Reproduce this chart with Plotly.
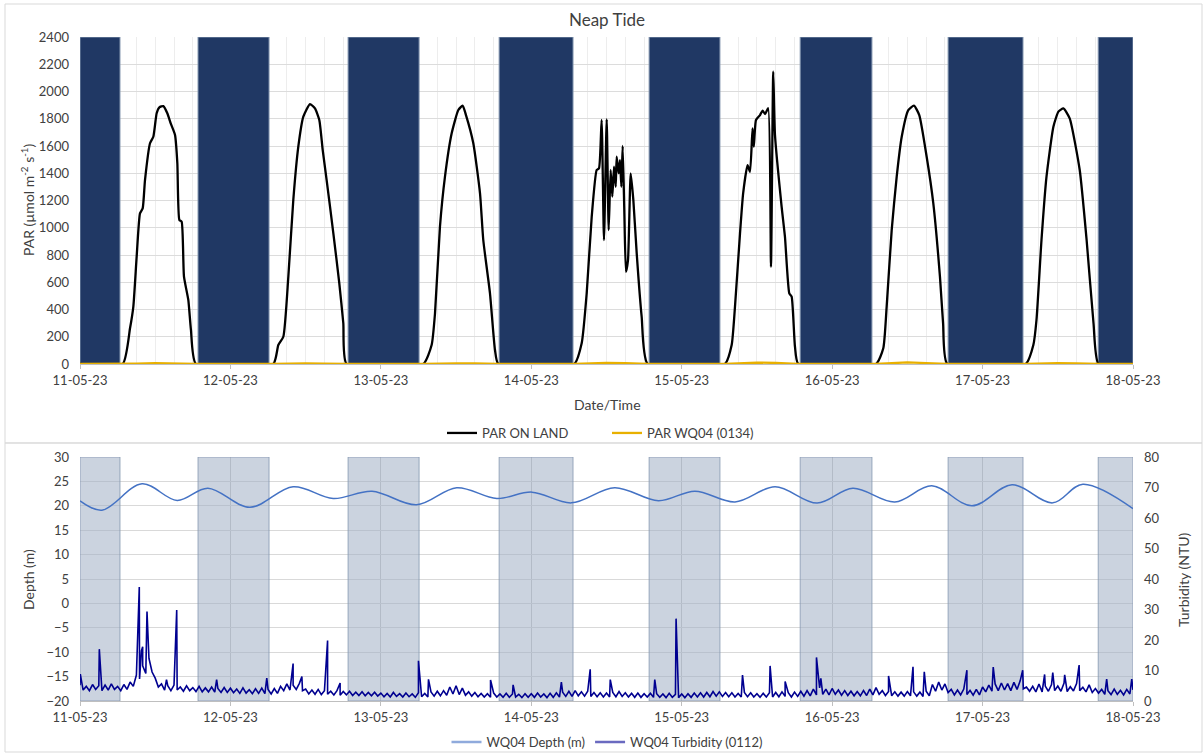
import plotly.graph_objects as go
import pandas as pd

# ---------------- DATA ----------------
start = pd.Timestamp("2023-05-11 00:00")
end = pd.Timestamp("2023-05-18 00:00")

# Night periods (hours since 11-05-23 00:00)
night_start_h = [0, 18.83, 42.77, 66.87, 90.8, 114.9, 138.5, 162.45]
night_end_h = [6.38, 30.16, 54.1, 78.66, 102.1, 126.35, 150.45, 168]

# PAR ON LAND (umol m-2 s-1)
par_land_h = [0, 6.81, 7.98, 8.51, 9.04, 9.57, 10.0, 10.37, 11.17, 11.7, 12.23, 12.66, 13.3, 13.93, 14.47, 15.16, 15.53, 15.85, 16.22, 16.59, 17.28, 17.7, 18.5,
              30.84, 31.64, 32.44, 33.24, 34.03, 34.83, 35.63, 36.69, 37.49, 38.18, 38.72, 39.35, 40.42, 41.37, 42.01, 42.54,
              54.77, 56.1, 56.64, 57.43, 58.23, 59.3, 60.36, 61.05, 61.58, 62.75, 63.82, 64.34, 65.41, 66.21, 66.74,
              78.86, 80.04, 80.84, 81.64, 82.43, 82.8, 83.22, 83.6, 84.03, 84.35, 84.66, 84.93, 85.2, 85.47, 85.62, 85.94, 86.15, 86.37, 86.58, 86.84, 87.1, 87.43, 87.86, 88.28, 88.82, 89.61, 90.57,
              102.9, 103.97, 104.5, 105.3, 105.8, 106.5, 106.9, 107.3, 107.5, 107.85, 108.5, 108.9, 109.3, 109.8, 110.24, 110.6, 110.88, 111.94, 112.47, 113.16, 113.54, 114.07, 114.6,
              127.0, 128.16, 128.7, 129.5, 130.3, 131.1, 132.15, 133.06, 133.9, 135.08, 136.14, 137.2, 137.7, 138.37,
              150.9, 152.1, 152.6, 153.4, 154.2, 155.3, 156.1, 156.9, 157.9, 159.5, 160.6, 161.7, 162.5, 168]
par_land = [0, 0, 262, 421, 788, 1106, 1142, 1350, 1620, 1668, 1840, 1884, 1893, 1840, 1766, 1681, 1473, 1057, 1044, 641, 470, 250, 0,
            0, 139, 200, 641, 1204, 1595, 1815, 1908, 1876, 1791, 1571, 1350, 959, 592, 299, 0,
            0, 139, 372, 1008, 1375, 1693, 1864, 1896, 1827, 1620, 1253, 910, 519, 103, 0,
            0, 152, 519, 1081, 1424, 1436, 1791, 910, 1796, 983, 1424, 1228, 1448, 1301, 1521, 1399, 1497, 1301, 1600, 1130, 677, 763, 1399, 1204, 812, 347, 0,
            0, 139, 421, 959, 1253, 1460, 1411, 1730, 1595, 1791, 1827, 1860, 1835, 1877, 714, 2145, 1681, 1155, 934, 519, 494, 127, 0,
            0, 115, 421, 983, 1375, 1668, 1864, 1896, 1827, 1521, 1179, 641, 299, 0,
            0, 139, 323, 910, 1375, 1742, 1852, 1876, 1803, 1424, 910, 299, 0, 0]

# PAR WQ04 (0134)
par_wq_h = [0, 6.8, 9, 12, 15, 18.5, 30.8, 33, 36, 39, 42.5, 54.8, 57, 60, 63, 66.7, 78.9, 81, 84, 87, 90.5,
            102.9, 105, 108, 111, 114.5, 127, 129, 132, 135, 138.3, 150.9, 153, 156, 159, 162.5, 168]
par_wq = [0, 0, 3, 6, 4, 0, 0, 3, 5, 3, 0, 0, 3, 5, 4, 0, 0, 5, 8, 6, 0,
          0, 6, 10, 8, 0, 0, 5, 12, 7, 0, 0, 4, 6, 5, 0, 0]

# WQ04 Depth (m) - tidal highs and lows
depth_h = [0, 3.5, 9.9, 15.5, 20.4, 27.1, 34.0, 40.4, 46.6, 53.7, 60.1, 66.5, 72.1, 78.4, 85.3, 92.3, 98.1,
           104.5, 110.9, 117.6, 123.3, 130.0, 135.9, 142.3, 148.7, 155.2, 160.0, 168]
depth = [21.0, 19.1, 24.5, 21.1, 23.6, 19.7, 23.9, 21.5, 23.0, 20.2, 23.7, 21.5, 22.8, 20.6, 23.7, 21.05, 23.0,
         20.8, 23.9, 20.55, 23.6, 20.8, 24.1, 20.0, 24.3, 20.6, 24.4, 19.4]

# WQ04 Turbidity (0112), NTU - half-hourly readings per day
turb_day1 = [5.2, 3.6, 4.8, 3.4, 5.4, 3.8, 5.0, 3.4, 5.2, 3.6, 5.6, 3.8, 4.8, 3.4, 5.4, 3.8,
             6.2, 4.8, 8.5, 7.2, 11.5, 9.0, 14.0, 9.5, 7.5, 4.6, 5.6, 3.6, 5.0, 3.4, 5.2, 3.6,
             4.6, 3.2, 5.0, 3.4, 4.4, 3.1, 4.8, 3.0, 4.3, 3.0, 4.6, 2.9, 4.1, 2.8, 4.4, 2.8]
turb_day2 = [4.2, 2.7, 3.9, 2.5, 4.3, 2.6, 3.7, 2.4, 4.0, 2.5, 4.2, 2.4, 3.8, 2.3, 4.1, 2.5,
             4.8, 3.4, 5.6, 3.6, 5.2, 3.8, 5.8, 3.4, 3.9, 2.3, 3.6, 2.2, 3.8, 2.1, 3.4, 2.2,
             3.2, 2.0, 3.4, 1.9, 3.1, 2.0, 3.2, 1.8, 2.9, 1.8, 3.0, 1.7, 2.8, 1.7, 2.9, 1.6]
turb_day3 = [2.6, 1.4, 2.5, 1.3, 2.8, 1.5, 2.4, 1.3, 2.6, 1.4, 2.3, 1.2, 2.7, 1.4, 2.5, 1.3,
             3.0, 1.6, 3.2, 1.7, 3.4, 1.9, 4.6, 2.3, 5.0, 2.1, 4.2, 1.9, 3.0, 1.6, 2.8, 1.4,
             2.5, 1.3, 2.4, 1.2, 2.6, 1.3, 2.3, 1.2, 2.5, 1.2, 2.3, 1.3, 2.2, 1.1, 2.4, 1.2]
turb_day4 = [2.4, 1.2, 2.6, 1.3, 2.3, 1.1, 2.5, 1.2, 2.7, 1.3, 2.9, 1.5, 3.2, 1.5, 3.4, 1.7,
             3.0, 1.6, 3.2, 1.5, 2.8, 1.4, 2.7, 1.3, 2.6, 1.3, 2.8, 1.4, 3.1, 1.5, 2.7, 1.3,
             2.5, 1.2, 2.6, 1.2, 2.4, 1.3, 2.5, 1.2, 2.4, 1.2, 2.3, 1.1, 2.5, 1.2, 2.2, 1.1]
turb_day5 = [2.3, 1.1, 2.4, 1.2, 2.6, 1.3, 2.7, 1.3, 2.8, 1.4, 3.1, 1.6, 3.0, 1.5, 2.8, 1.4,
             2.7, 1.3, 2.5, 1.3, 2.8, 1.4, 2.7, 1.3, 2.4, 1.2, 2.5, 1.3, 2.7, 1.3, 2.8, 1.4,
             3.0, 1.5, 2.7, 1.3, 2.9, 1.5, 3.2, 1.6, 3.4, 1.7, 3.9, 2.0, 4.3, 2.2, 3.9, 2.0]
turb_day6 = [4.1, 2.2, 3.6, 1.9, 3.4, 1.8, 3.2, 1.7, 3.1, 1.7, 3.4, 1.8, 3.9, 2.0, 4.4, 2.2,
             3.4, 1.8, 3.1, 1.7, 3.0, 1.6, 2.9, 1.6, 3.1, 1.7, 3.0, 1.6, 2.9, 1.5, 3.2, 1.7,
             5.4, 3.2, 6.2, 3.6, 5.6, 2.8, 3.8, 2.0, 3.6, 2.0, 3.9, 2.1, 3.5, 1.9, 3.8, 2.0]
turb_day7 = [4.6, 3.0, 5.2, 3.2, 5.6, 3.4, 5.9, 3.6, 5.7, 3.4, 6.1, 3.8, 6.6, 4.0, 4.6, 3.2,
             4.8, 3.0, 5.6, 3.0, 4.9, 3.2, 5.4, 3.4, 4.9, 3.2, 5.9, 3.1, 4.7, 3.3, 5.7, 3.4,
             4.5, 3.0, 5.3, 2.8, 4.1, 2.6, 3.8, 2.2, 3.4, 2.1, 3.9, 2.2, 3.5, 2.0, 3.8, 2.3]
turb_end = 3.6

# Turbidity spikes (hour, NTU)
spike_h = [0.05, 3.08, 9.1, 9.46, 9.8, 10.0, 10.69, 13.8, 15.43, 21.8, 29.8, 34.0, 35.4, 39.2, 39.5, 41.5,
           54.0, 55.6, 65.5, 69.1, 76.8, 81.4, 84.6, 91.7, 95.1, 105.7, 110.1, 112.5, 117.5, 118.2,
           129.0, 132.9, 134.7, 141.5, 145.7, 150.4, 153.9, 155.2, 157.1, 159.4, 163.8, 167.8]
spike_v = [8.8, 17.0, 15.7, 37.4, 16.5, 17.8, 29.3, 7.0, 29.8, 7.0, 7.5, 12.3, 8.0, 10.0, 19.8, 5.9,
           13.2, 7.1, 6.9, 5.3, 6.2, 10.4, 7.0, 7.0, 27.0, 8.5, 11.5, 6.4, 14.3, 7.4,
           8.2, 11.2, 9.6, 10.1, 11.1, 10.1, 8.7, 9.3, 8.6, 11.8, 7.2, 7.2]

# ---------------- BUILD ----------------
def to_time(hours):
    return [start + pd.Timedelta(hours=h) for h in hours]

turb_base = turb_day1 + turb_day2 + turb_day3 + turb_day4 + turb_day5 + turb_day6 + turb_day7 + [turb_end]
turb_base_h = [i * 0.5 for i in range(len(turb_base))]
turb_df = pd.concat([
    pd.DataFrame({"h": turb_base_h, "v": turb_base}),
    pd.DataFrame({"h": spike_h, "v": spike_v}),
]).sort_values("h")

W, H = 1203, 753
def px(x):
    return x / W
def py(y):
    return 1 - y / H

FONT = "Lato, Calibri, Carlito, sans-serif"
TXT = "#404040"

fig = go.Figure()

fig.add_trace(go.Scatter(x=to_time(par_land_h), y=par_land, mode="lines", name="PAR ON LAND",
                         line=dict(color="#000000", width=2.3, shape="spline", smoothing=0.5),
                         xaxis="x", yaxis="y", legend="legend"))
fig.add_trace(go.Scatter(x=to_time(par_wq_h), y=par_wq, mode="lines", name="PAR WQ04 (0134)",
                         line=dict(color="#E8B000", width=2.3), xaxis="x", yaxis="y", legend="legend"))

fig.add_trace(go.Scatter(x=to_time(depth_h), y=depth, mode="lines", name="WQ04 Depth (m)",
                         line=dict(color="#4472C4", width=1.5, shape="spline", smoothing=1.0),
                         xaxis="x2", yaxis="y3", showlegend=False))
fig.add_trace(go.Scatter(x=to_time(turb_df["h"].tolist()), y=turb_df["v"].tolist(), mode="lines",
                         name="WQ04 Turbidity (0112)", line=dict(color="#000090", width=1.6),
                         xaxis="x2", yaxis="y4", showlegend=False))
# legend entries for bottom chart (lighter as in reference legend)
fig.add_trace(go.Scatter(x=[None], y=[None], mode="lines", name="WQ04 Depth (m)",
                         line=dict(color="#8FAADC", width=2.5), xaxis="x2", yaxis="y3", legend="legend2"))
fig.add_trace(go.Scatter(x=[None], y=[None], mode="lines", name="WQ04 Turbidity (0112)",
                         line=dict(color="#6A6AC0", width=2.5), xaxis="x2", yaxis="y4", legend="legend2"))

shapes = []
for s, e in zip(night_start_h, night_end_h):
    shapes.append(dict(type="rect", xref="x", yref="y", x0=start + pd.Timedelta(hours=s),
                       x1=start + pd.Timedelta(hours=e), y0=0, y1=2400, layer="between",
                       fillcolor="#203864", line=dict(color="#8497B0", width=1)))
    shapes.append(dict(type="rect", xref="x2", yref="y3", x0=start + pd.Timedelta(hours=s),
                       x1=start + pd.Timedelta(hours=e), y0=-20, y1=30, layer="between",
                       fillcolor="rgba(160,174,196,0.55)", line=dict(color="rgba(132,151,176,0.8)", width=1)))
# chart-area frames
shapes.append(dict(type="rect", xref="paper", yref="paper", x0=px(5), x1=px(1202), y0=py(443), y1=py(4),
                   line=dict(color="#D9D9D9", width=1), layer="below"))
shapes.append(dict(type="rect", xref="paper", yref="paper", x0=px(5), x1=px(1202), y0=py(752), y1=py(443),
                   line=dict(color="#D9D9D9", width=1), layer="below"))

xdom = [px(80), px(1133)]
day_ms = 86400000
common_x = dict(type="date", range=[start, end], dtick=day_ms, tick0=start, tickformat="%d-%m-%y",
                ticks="outside", ticklen=4, tickcolor="#BFBFBF", showline=True, linecolor="#BFBFBF",
                tickfont=dict(family=FONT, size=13, color=TXT), zeroline=False, automargin=False)

fig.update_layout(
    width=W, height=H, margin=dict(l=0, r=0, t=0, b=0, autoexpand=False),
    paper_bgcolor="white", plot_bgcolor="white",
    font=dict(family=FONT, size=13, color=TXT),
    title=dict(text="Neap Tide", x=px(607), y=py(20), xanchor="center", yanchor="middle",
               font=dict(family=FONT, size=17, color=TXT)),
    xaxis=dict(domain=xdom, anchor="y", showgrid=True, gridcolor="#EDEDED",
               minor=dict(dtick=3 * 3600000, showgrid=True, gridcolor="#EDEDED"), **common_x),
    yaxis=dict(domain=[py(364), py(37)], anchor="x", range=[0, 2400], dtick=200, showgrid=True,
               gridcolor="#DCDCDC", zeroline=False, ticks="", ticklabelstandoff=10, automargin=False,
               tickfont=dict(family=FONT, size=13, color=TXT)),
    xaxis2=dict(domain=xdom, anchor="y3", showgrid=True, gridcolor="#C9C9C9", **common_x),
    yaxis3=dict(domain=[py(701), py(457)], anchor="x2", range=[-20, 30], dtick=5, showgrid=True,
                gridcolor="#D9D9D9", zeroline=False, ticks="", ticklabelstandoff=10, automargin=False,
                tickfont=dict(family=FONT, size=13, color=TXT)),
    yaxis4=dict(overlaying="y3", anchor="x2", side="right", range=[0, 80], dtick=10, showgrid=False,
                zeroline=False, ticks="", ticklabelstandoff=10, automargin=False,
                tickfont=dict(family=FONT, size=13, color=TXT)),
    legend=dict(orientation="h", x=px(607), xanchor="center", y=py(433), yanchor="middle",
                font=dict(family=FONT, size=13, color=TXT), itemwidth=30, entrywidth=120,
                bgcolor="rgba(0,0,0,0)"),
    legend2=dict(orientation="h", x=px(607), xanchor="center", y=py(742), yanchor="middle",
                 font=dict(family=FONT, size=13, color=TXT), itemwidth=30, bgcolor="rgba(0,0,0,0)"),
    shapes=shapes,
    annotations=[
        dict(text="PAR (µmol m<sup>-2</sup> s<sup>-1</sup>)", xref="paper", yref="paper", x=px(27), y=py(200),
             xanchor="center", yanchor="middle", textangle=-90, showarrow=False,
             font=dict(family=FONT, size=14, color=TXT)),
        dict(text="Date/Time", xref="paper", yref="paper", x=px(607), y=py(404), xanchor="center",
             yanchor="middle", showarrow=False, font=dict(family=FONT, size=14, color=TXT)),
        dict(text="Depth (m)", xref="paper", yref="paper", x=px(28), y=py(580), xanchor="center",
             yanchor="middle", textangle=-90, showarrow=False, font=dict(family=FONT, size=14, color=TXT)),
        dict(text="Turbidity (NTU)", xref="paper", yref="paper", x=px(1183), y=py(580), xanchor="center",
             yanchor="middle", textangle=-90, showarrow=False, font=dict(family=FONT, size=14, color=TXT)),
    ],
)

fig.write_html("out.html")
